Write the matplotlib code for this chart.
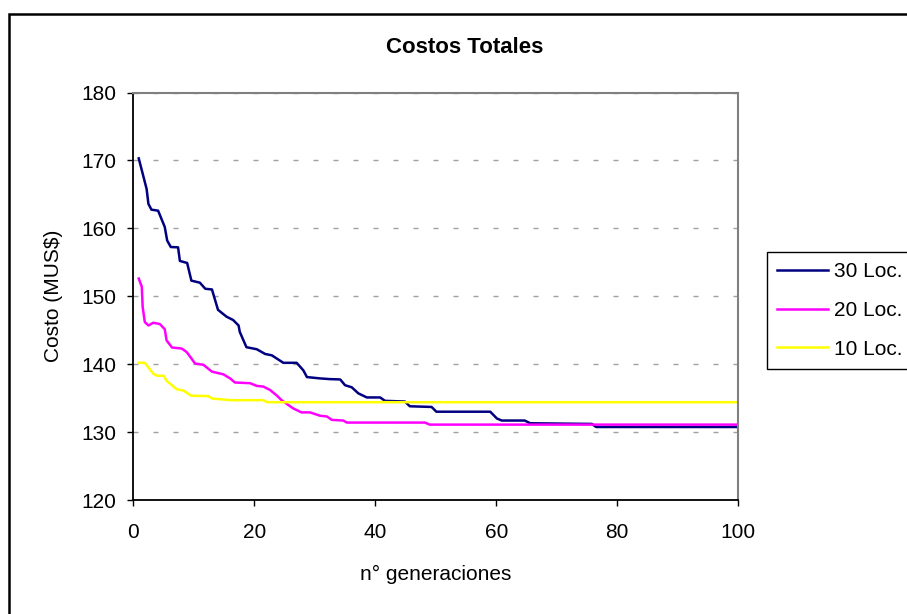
import numpy as np
import matplotlib
matplotlib.use('Agg')
import matplotlib.pyplot as plt
from matplotlib.patches import Rectangle

plt.rcParams['font.family'] = ['Liberation Sans', 'DejaVu Sans']

# Datos (generacion, costo en MUS$)
gen_30 = [0.9, 2.2, 2.5, 3.0, 4.1, 5.2, 5.6, 6.2, 7.4, 7.7, 8.9, 9.6, 11.0, 11.9, 13.0,
          14.0, 15.4, 16.5, 17.4, 17.6, 18.7, 20.4, 21.8, 22.9, 24.8, 27.0, 28.1, 28.7,
          30.9, 32.5, 34.2, 35.0, 36.1, 37.2, 38.6, 40.8, 41.6, 44.9, 45.7, 49.3, 50.1,
          59.0, 60.1, 60.9, 64.7, 65.6, 75.8, 76.5, 100]
cost_30 = [170.3, 165.8, 163.6, 162.75, 162.6, 160.2, 158.2, 157.25, 157.2, 155.2, 154.9,
           152.3, 152.0, 151.1, 151.0, 148.0, 147.0, 146.5, 145.7, 144.75, 142.5, 142.2,
           141.5, 141.3, 140.2, 140.2, 139.1, 138.1, 137.9, 137.8, 137.75, 136.9, 136.6,
           135.7, 135.1, 135.1, 134.6, 134.5, 133.8, 133.7, 133.0, 133.0, 132.0, 131.7,
           131.7, 131.3, 131.2, 130.75, 130.75]

gen_20 = [0.9, 1.4, 1.55, 1.9, 2.5, 3.3, 4.4, 5.2, 5.5, 6.4, 8.0, 8.8, 9.6, 10.2, 11.6,
          13.0, 14.9, 16.0, 16.8, 19.3, 20.4, 21.5, 22.6, 23.7, 24.5, 26.4, 27.8, 29.2,
          30.9, 32.0, 32.8, 34.7, 35.3, 48.2, 49.0, 100]
cost_20 = [152.6, 151.4, 148.4, 146.2, 145.7, 146.1, 145.9, 145.15, 143.5, 142.45, 142.3,
           141.8, 140.85, 140.1, 139.9, 138.9, 138.5, 137.9, 137.3, 137.2, 136.8, 136.7,
           136.2, 135.4, 134.7, 133.5, 132.9, 132.9, 132.4, 132.3, 131.8, 131.7, 131.4,
           131.4, 131.1, 131.1]

gen_10 = [0.9, 1.9, 3.3, 3.9, 5.0, 5.5, 7.2, 8.3, 9.6, 12.4, 13.0, 16.0, 21.5, 22.1, 100]
cost_10 = [140.2, 140.2, 138.6, 138.3, 138.3, 137.55, 136.3, 136.1, 135.35, 135.3, 134.95,
           134.7, 134.7, 134.4, 134.4]

series = [
    ('30 Loc.', gen_30, cost_30, '#000080'),
    ('20 Loc.', gen_20, cost_20, '#FF00FF'),
    ('10 Loc.', gen_10, cost_10, '#FFFF00'),
]

W, H = 907, 614
fig = plt.figure(figsize=(W / 100, H / 100), dpi=100)
ax = fig.add_axes([133.3 / W, 1 - 500 / H, 605 / W, 407.5 / H])

for label, g, c, col in series:
    ax.plot(g, c, color=col, lw=1.8, label=label, solid_joinstyle='round')

ax.set_xlim(0, 100)
ax.set_ylim(120, 180)
ax.set_xticks(np.arange(0, 101, 20))
ax.set_yticks(np.arange(120, 181, 10))
ax.tick_params(axis='both', direction='out', length=4, width=1, labelsize=15, colors='black')
ax.tick_params(axis='x', pad=12.5)
ax.tick_params(axis='y', pad=8)

ax.yaxis.grid(True, color='#a0a0a0', lw=1, linestyle=(0, (3.6, 10.8)))
ax.set_axisbelow(True)

for s in ['left', 'bottom']:
    ax.spines[s].set_color('black')
    ax.spines[s].set_linewidth(1.3)
for s in ['top', 'right']:
    ax.spines[s].set_color('#808080')
    ax.spines[s].set_linewidth(1.5)

ax.set_xlabel('n° generaciones', fontsize=15, va='center')
ax.xaxis.set_label_coords(0.5, (500 - 574) / 407.5)
ax.set_ylabel('Costo (MUS$)', fontsize=15, va='center')
ax.yaxis.set_label_coords((53.5 - 133.3) / 605, 0.5)

fig.text(464.5 / W, 1 - 53.3 / H, 'Costos Totales', fontsize=16, fontweight='bold',
         ha='center', va='baseline')

leg = fig.legend(loc='upper left', bbox_to_anchor=(766.7 / W, 1 - 251.7 / H),
                 fontsize=15, handlelength=2.45, handletextpad=0.27, borderpad=0.5,
                 labelspacing=0.95, fancybox=False, framealpha=1, borderaxespad=0)
leg.get_frame().set_edgecolor('black')
leg.get_frame().set_linewidth(1)

# borde exterior del area del grafico (recortado a la derecha y abajo)
fig.add_artist(Rectangle((8.7 / W, -0.1), 1.2, 1.1 - 14 / H, transform=fig.transFigure,
                         fill=False, ec='black', lw=1.8))

fig.savefig('out.png', dpi=100)
